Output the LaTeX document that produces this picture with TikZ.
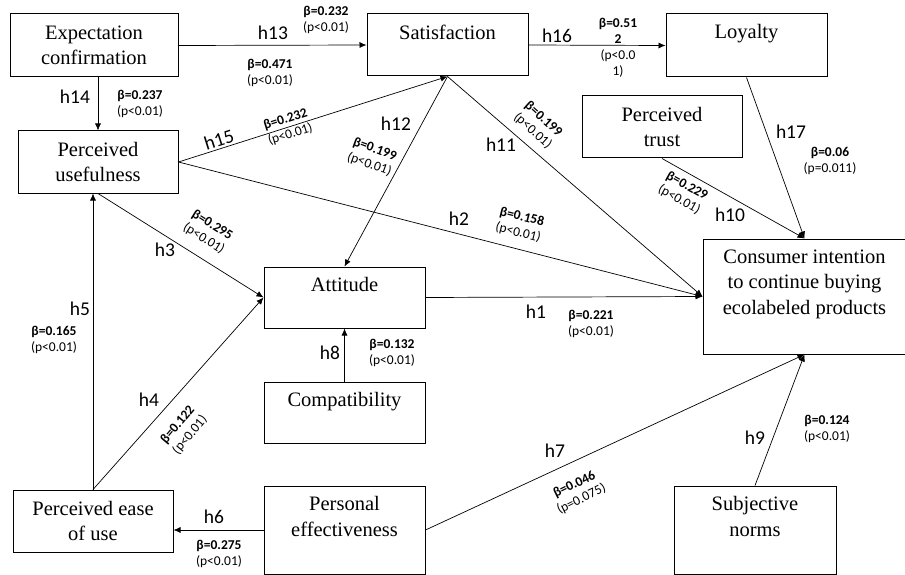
\documentclass[tikz,border=0pt]{standalone}
\usepackage{fontspec}
\setmainfont{Liberation Serif}
\newfontfamily\carlito{Carlito}
\usetikzlibrary{arrows.meta}
\newcommand\boxfont{\fontsize{20.5}{25.5}\selectfont}
\newcommand\hypfont{\carlito\fontsize{19.5}{22}\selectfont}
\newcommand\coeffont{\carlito\fontsize{13.5}{16}\selectfont}
\newcommand\coef[2]{\textbf{β=#1}\\(#2)}
\tikzset{
  box/.style={draw, line width=1pt, rectangle, inner sep=0pt, align=center, font=\boxfont},
  toptext/.style={anchor=north, inner sep=0pt, yshift=-11pt, align=center, font=\boxfont},
  hyp/.style={font=\hypfont, inner sep=0pt},
  coefnode/.style={font=\coeffont, align=center, inner sep=0pt},
  link/.style={line width=0.7pt, -{Latex[length=7pt,width=6pt]}}
}
\begin{document}
\begin{tikzpicture}[x=1pt, y=-1pt]
  \useasboundingbox (0,0) rectangle (905,575);
  % constructs
  \node[box, minimum width=168pt, minimum height=63pt] (expc) at (94,45.5) {Expectation\\confirmation};
  \node[box, minimum width=161pt, minimum height=62pt,
    label={[toptext, name=satT]north:Satisfaction}] (sat) at (447.5,45) {};
  \node[box, minimum width=161pt, minimum height=63pt,
    label={[toptext, name=loyT]north:Loyalty}] (loy) at (746.5,45.5) {};
  \node[box, minimum width=160pt, minimum height=62pt] (trust) at (662,127) {Perceived\\trust};
  \node[box, minimum width=160pt, minimum height=62pt] (pu) at (98,162) {Perceived\\usefulness};
  \node[box, minimum width=161pt, minimum height=61pt,
    label={[toptext, name=attT]north:Attitude}] (att) at (344.5,297.5) {};
  \node[box, minimum width=203pt, minimum height=115pt,
    label={[toptext, name=ciT]north:{Consumer intention\\to continue buying\\ecolabeled products}}] (ci) at (804.5,296.5) {};
  \node[box, minimum width=161pt, minimum height=61pt,
    label={[toptext, name=compT]north:Compatibility}] (comp) at (344.5,412.5) {};
  \node[box, minimum width=160pt, minimum height=62pt] (peu) at (93,521) {Perceived ease\\of use};
  \node[box, minimum width=161pt, minimum height=88pt,
    label={[toptext, name=peT]north:{Personal\\effectiveness}}] (pe) at (344.5,530) {};
  \node[box, minimum width=162pt, minimum height=88pt,
    label={[toptext, name=snT]north:{Subjective\\norms}}] (sn) at (755,530) {};

  % paths
  \draw[link] (expc.east) -- (sat.west);
  \draw[link] (sat.east) -- (loy.west);
  \draw[link] (expc.south -| pu.north) -- (pu.north);
  \draw[link] (pu.east) -- (sat.south);
  \draw[link] (sat.south) -- (att.north);
  \draw[link] (sat.south) -- (ci.west);
  \draw[link] (pu.east) -- (ci.west);
  \draw[link] (pu.south) -- (att.west);
  \draw[link] (peu.north) -- (peu.north |- pu.south);
  \draw[link] (peu.north) -- (att.west);
  \draw[link] (comp.north) -- (att.south);
  \draw[link] (att.east) -- (ci.west);
  \draw[link] (pe.west) -- (pe.west -| peu.east);
  \draw[link] (pe.east) -- (ci.south);
  \draw[link] (sn.north) -- (ci.south);
  \draw[link] (trust.south) -- (ci.north);
  \draw[link] (loy.south) -- (ci.north);

  % hypotheses
  \node[hyp] (h1) at (536,312) {h1};
  \node[hyp] (h2) at (459,219) {h2};
  \node[hyp] (h3) at (165,250) {h3};
  \node[hyp] (h4) at (149,400) {h4};
  \node[hyp] (h5) at (80,309) {h5};
  \node[hyp] (h6) at (214,517) {h6};
  \node[hyp] (h7) at (555,451) {h7};
  \node[hyp] (h8) at (330,353) {h8};
  \node[hyp] (h9) at (755,438) {h9};
  \node[hyp] (h10) at (730,215) {h10};
  \node[hyp] (h11) at (501,145) {h11};
  \node[hyp] (h12) at (396,124) {h12};
  \node[hyp] (h13) at (273,33) {h13};
  \node[hyp] (h14) at (75,97) {h14};
  \node[hyp, rotate=17.5] (h15) at (219,140) {h15};
  \node[hyp] (h16) at (557,36) {h16};
  \node[hyp] (h17) at (791,132) {h17};

  % coefficients
  \node[coefnode] (b1) at (591,324) {\coef{0.221}{p<0.01}};
  \node[coefnode, rotate=-14] (b2) at (520,225) {\coef{0.158}{p<0.01}};
  \node[coefnode, rotate=-32] (b3) at (208,232) {\coef{0.295}{p<0.01}};
  \node[coefnode, rotate=50] (b4) at (184,430) {\coef{0.122}{p<0.01}};
  \node[coefnode] (b5) at (54,340) {\coef{0.165}{p<0.01}};
  \node[coefnode] (b6) at (219,554) {\coef{0.275}{p<0.01}};
  \node[coefnode, rotate=26] (b7) at (578,492) {\coef{0.046}{p=0.075}};
  \node[coefnode] (b8) at (392,353) {\coef{0.132}{p<0.01}};
  \node[coefnode] (b9) at (827,429) {\coef{0.124}{p<0.01}};
  \node[coefnode, rotate=-29] (b10) at (683,193) {\coef{0.229}{p<0.01}};
  \node[coefnode, rotate=-42] (b11) at (538,125) {\coef{0.199}{p<0.01}};
  \node[coefnode, rotate=-20] (b12) at (372,157) {\coef{0.199}{p<0.01}};
  \node[coefnode] (b13) at (326,20) {\coef{0.232}{p<0.01}};
  \node[coefnode] (b13b) at (270,73) {\coef{0.471}{p<0.01}};
  \node[coefnode] (b14) at (140,104) {\coef{0.237}{p<0.01}};
  \node[coefnode, rotate=17.5] (b15) at (288,127) {\coef{0.232}{p<0.01}};
  \node[coefnode] (b16) at (618,48) {\textbf{β=0.51}\\\textbf{2}\\(p<0.0\\1)};
  \node[coefnode] (b17) at (830,161) {\coef{0.06}{p=0.011}};
\end{tikzpicture}
\end{document}
